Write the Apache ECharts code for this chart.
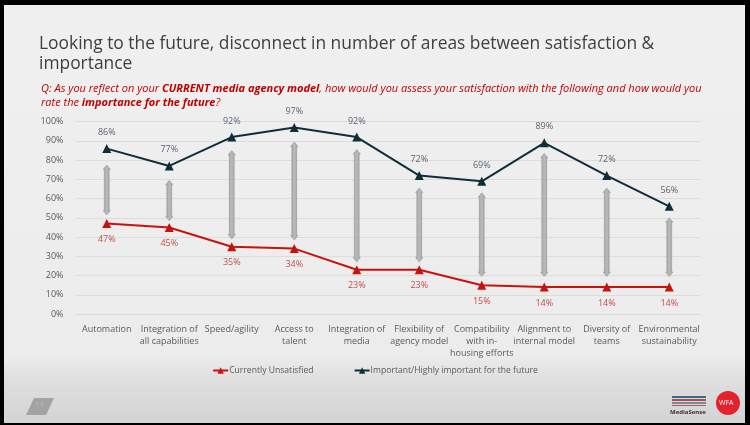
<!DOCTYPE html>
<html>
<head>
<meta charset="utf-8">
<script src="https://cdn.jsdelivr.net/npm/echarts@6/dist/echarts.min.js"></script>
<style>
html,body{margin:0;padding:0;background:#000;}
#c{width:750px;height:425px;}
</style>
</head>
<body>
<div id="c"></div>
<script>
const categories = [
  'Automation',
  'Integration of\nall capabilities',
  'Speed/agility',
  'Access to\ntalent',
  'Integration of\nmedia',
  'Flexibility of\nagency model',
  'Compatibility\nwith in-\nhousing efforts',
  'Alignment to\ninternal model',
  'Diversity of\nteams',
  'Environmental\nsustainability'
];
const unsatisfied = [47, 45, 35, 34, 23, 23, 15, 14, 14, 14];
const important = [86, 77, 92, 97, 92, 72, 69, 89, 72, 56];
const arrowLow = [51.5, 48.5, 39, 38.5, 27, 27, 19.5, 19.5, 19.5, 19.5];
const arrowHigh = [77.5, 69.5, 85, 89.5, 85.5, 65.5, 63, 83.5, 65.5, 50];
const yTicks = [0, 10, 20, 30, 40, 50, 60, 70, 80, 90, 100];

const FONT = '"Open Sans", "Noto Sans", sans-serif';
const chart = echarts.init(document.getElementById('c'), null, {renderer: 'canvas'});

const arrowData = categories.map((c, i) => [i, arrowLow[i], arrowHigh[i]]);

const option = {
  backgroundColor: '#000',
  animation: false,
  graphic: [
    {
      type: 'rect', z: -10, silent: true,
      shape: {x: 4, y: 5, width: 741, height: 418},
      style: {
        fill: {
          type: 'linear', x: 0, y: 0, x2: 0, y2: 1,
          colorStops: [
            {offset: 0, color: '#f0f0f0'},
            {offset: 0.84, color: '#ececec'},
            {offset: 0.9, color: '#dedede'},
            {offset: 1, color: '#d4d4d4'}
          ]
        }
      }
    },
    {
      type: 'polygon', silent: true,
      shape: {points: [[34, 398], [54, 398], [46, 415], [26, 415]]},
      style: {fill: '#a3a3a3'}
    },
    {
      type: 'text', silent: true, left: 35, top: 401,
      style: {text: '11', fill: '#bdbdbd', font: '8px ' + FONT}
    },
    {type: 'rect', silent: true, shape: {x: 672, y: 396, width: 34, height: 2}, style: {fill: '#2f6f8a'}},
    {type: 'rect', silent: true, shape: {x: 672, y: 399, width: 34, height: 2}, style: {fill: '#c0444a'}},
    {type: 'rect', silent: true, shape: {x: 672, y: 402, width: 34, height: 2}, style: {fill: '#6b8da0'}},
    {type: 'rect', silent: true, shape: {x: 672, y: 405, width: 34, height: 1}, style: {fill: '#b05a60'}},
    {
      type: 'text', silent: true, left: 670, top: 409,
      style: {text: 'MediaSense', fill: '#333', font: 'bold 6px ' + FONT}
    },
    {
      type: 'circle', silent: true,
      shape: {cx: 728, cy: 403, r: 12},
      style: {fill: '#e2232f'}
    },
    {
      type: 'text', silent: true, left: 719, top: 399,
      style: {text: 'WFA', fill: '#fff', font: '7px ' + FONT}
    }
  ],
  title: [
    {
      text: 'Looking to the future, disconnect in number of areas between satisfaction &\nimportance',
      left: 34, top: 29,
      textStyle: {fontFamily: FONT, fontSize: 17.4, fontWeight: 'normal', color: '#404040', lineHeight: 20}
    },
    {
      text: '{n|Q: As you reflect on your }{b|CURRENT media agency model}{n|, how would you assess your satisfaction with the following and how would you}\n{n|rate the }{b|importance for the future}{n|?}',
      left: 36, top: 77,
      textStyle: {
        fontWeight: 'normal',
        rich: {
          n: {fontFamily: FONT, fontSize: 11, fontStyle: 'italic', fontWeight: 'normal', color: '#c00000', lineHeight: 14},
          b: {fontFamily: FONT, fontSize: 11, fontStyle: 'italic', fontWeight: 'bold', color: '#c00000', lineHeight: 14}
        }
      }
    }
  ],
  grid: {left: 75.5, right: 49.5, top: 121.7, bottom: 111, containLabel: false},
  legend: {
    bottom: 45, left: 'center',
    itemWidth: 15, itemHeight: 8, itemGap: 40,
    textStyle: {fontFamily: FONT, fontSize: 8.6, color: '#595959', padding: [0, 0, 0, -4]},
    data: ['Currently Unsatisfied', 'Important/Highly important for the future']
  },
  xAxis: {
    type: 'category',
    data: categories,
    boundaryGap: true,
    axisLine: {show: true, lineStyle: {color: '#d9d9d9'}},
    axisTick: {show: false},
    axisLabel: {interval: 0, fontFamily: FONT, fontSize: 9, color: '#595959', lineHeight: 12, margin: 9}
  },
  yAxis: {
    type: 'value', min: 0, max: 100, interval: 10,
    axisLine: {show: false}, axisTick: {show: false},
    splitLine: {lineStyle: {color: '#dcdcdc', width: 1}},
    axisLabel: {
      fontFamily: FONT, fontSize: 9, color: '#595959', margin: 12,
      formatter: v => (yTicks.indexOf(v) >= 0 ? v + '%' : '')
    }
  },
  series: [
    {
      type: 'custom',
      name: 'gap',
      silent: true,
      z: 1,
      data: arrowData,
      renderItem: function (params, api) {
        const i = api.value(0);
        const top = api.coord([i, api.value(2)]);
        const bot = api.coord([i, api.value(1)]);
        const x = top[0];
        const bw = 2.4, hw = 3.6, hl = 4.5;
        const yt = top[1], yb = bot[1];
        return {
          type: 'polygon',
          shape: {points: [
            [x, yt], [x + hw, yt + hl], [x + bw, yt + hl],
            [x + bw, yb - hl], [x + hw, yb - hl], [x, yb],
            [x - hw, yb - hl], [x - bw, yb - hl], [x - bw, yt + hl],
            [x - hw, yt + hl]
          ]},
          style: {
            fill: {
              type: 'linear', x: 0, y: 0, x2: 1, y2: 0,
              colorStops: [
                {offset: 0, color: '#a0a0a0'},
                {offset: 0.5, color: '#bababa'},
                {offset: 1, color: '#a0a0a0'}
              ]
            },
            stroke: '#959595', lineWidth: 0.6
          }
        };
      }
    },
    {
      name: 'Currently Unsatisfied',
      type: 'line',
      data: unsatisfied,
      z: 3,
      symbol: 'triangle', symbolSize: 9,
      itemStyle: {color: '#c8120e'},
      lineStyle: {color: '#c8120e', width: 2},
      label: {
        show: true, position: 'bottom', distance: 7,
        formatter: p => p.value + '%',
        fontFamily: FONT, fontSize: 9, color: '#c0504d'
      }
    },
    {
      name: 'Important/Highly important for the future',
      type: 'line',
      data: important,
      z: 3,
      symbol: 'triangle', symbolSize: 9,
      itemStyle: {color: '#0f2e38'},
      lineStyle: {color: '#0f2e38', width: 2},
      label: {
        show: true, position: 'top', distance: 7,
        formatter: p => p.value + '%',
        fontFamily: FONT, fontSize: 9, color: '#5a6470'
      }
    }
  ]
};
chart.setOption(option);
</script>
</body>
</html>
